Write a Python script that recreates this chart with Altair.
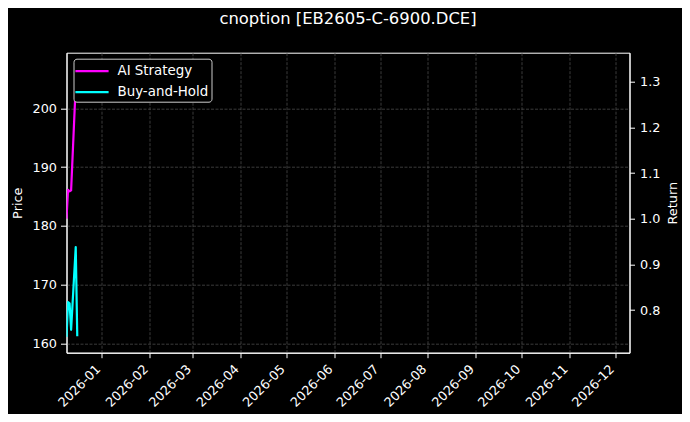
import altair as alt
import pandas as pd

# values
dates = ["2025-12-09", "2025-12-10", "2025-12-11", "2025-12-12", "2025-12-15", "2025-12-16"]
ai_return = [1.000, 1.063, 1.060, 1.062, 1.293, 1.320]
bh_price = [161.1, 167.0, 166.8, 162.3, 176.4, 161.2]
series = ["AI Strategy", "Buy-and-Hold"]
colors = ["#ff00ff", "#00ffff"]
price_ticks = [160, 170, 180, 190, 200]
return_ticks = [0.8, 0.9, 1.0, 1.1, 1.2, 1.3]
month_ticks = [alt.DateTime(year=2026, month=m, date=1, utc=True) for m in range(1, 13)]

FONT = "DejaVu Sans"

ai = pd.DataFrame({"date": dates, "value": ai_return, "series": series[0]})
bh = pd.DataFrame({"date": dates, "value": bh_price, "series": series[1]})

x = alt.X(
    "date:T",
    title=None,
    scale=alt.Scale(
        type="utc",
        domain=[
            alt.DateTime(year=2025, month=12, date=9, utc=True),
            alt.DateTime(year=2026, month=12, date=10, utc=True),
        ],
    ),
    axis=alt.Axis(
        values=month_ticks,
        format="%Y-%m",
        labelAngle=-45,
        labelAlign="right",
        labelBaseline="middle",
        labelPadding=9,
        labelOffset=-4,
        labelOverlap=False,
        tickSize=5,
        grid=True,
    ),
)

color = alt.Color(
    "series:N",
    scale=alt.Scale(domain=series, range=colors),
    legend=alt.Legend(
        title=None,
        orient="none",
        legendX=7,
        legendY=6,
        fillColor="#000000",
        strokeColor="#cccccc",
        cornerRadius=3,
        padding=3,
        symbolType="M-2.1,0H2.1",
        symbolSize=250,
        symbolStrokeWidth=2.2,
        symbolOffset=6,
        labelFontSize=13.4,
        labelFont=FONT,
        labelColor="white",
        labelOffset=16,
        rowPadding=5,
    ),
)

price_line = (
    alt.Chart(bh)
    .mark_line(strokeWidth=2.2, strokeJoin="round", clip=True)
    .encode(
        x=x,
        y=alt.Y(
            "value:Q",
            title="Price",
            scale=alt.Scale(domain=[158.4, 209.5], nice=False, zero=False),
            axis=alt.Axis(
                orient="left",
                values=price_ticks,
                grid=True,
                tickSize=6,
                labelPadding=4,
                titlePadding=8,
            ),
        ),
        color=color,
    )
)

return_line = (
    alt.Chart(ai)
    .mark_line(strokeWidth=2.2, strokeJoin="round", clip=True)
    .encode(
        x=x,
        y=alt.Y(
            "value:Q",
            title="Return",
            scale=alt.Scale(domain=[0.7065, 1.3635], nice=False, zero=False),
            axis=alt.Axis(
                orient="right",
                values=return_ticks,
                format=".1f",
                grid=False,
                tickSize=5,
                labelPadding=5,
                titlePadding=7,
                titleAngle=270,
                titleBaseline="top",
            ),
        ),
        color=color,
    )
)

chart = (
    alt.layer(price_line, return_line)
    .resolve_scale(y="independent")
    .properties(
        width=563,
        height=300,
        autosize=alt.AutoSizeParams(type="none"),
        padding={"left": 58.5, "top": 44.7, "right": 52.5, "bottom": 61.3},
        background="#000000",
        title=alt.TitleParams(
            "cnoption [EB2605-C-6900.DCE]",
            fontSize=16.4,
            font=FONT,
            fontWeight="normal",
            color="white",
            anchor="middle",
            baseline="alphabetic",
            frame="group",
            offset=12.5,
        ),
    )
    .configure_view(stroke="white", strokeWidth=1, fill="#000000")
    .configure_axis(
        labelFont=FONT,
        labelFontSize=12.8,
        labelColor="white",
        titleFont=FONT,
        titleFontSize=12.9,
        titleFontWeight="normal",
        titleColor="white",
        domainColor="white",
        tickColor="white",
        gridColor="#4a4a4a",
        gridDash=[3, 1.5],
        gridWidth=0.8,
        labelFlush=False,
    )
)

chart.save("out.html", embed_options={"renderer": "svg", "actions": False})
